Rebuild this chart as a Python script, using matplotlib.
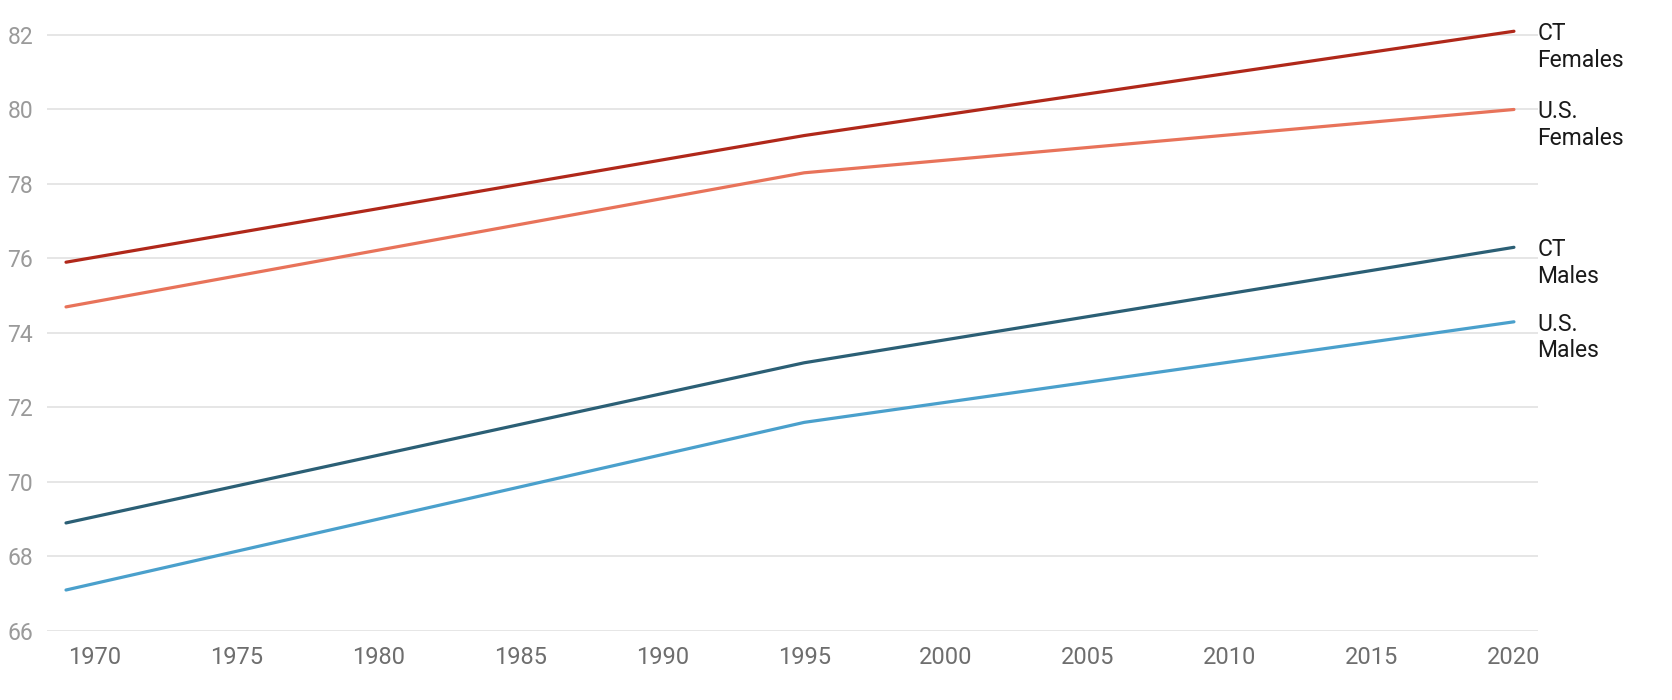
import numpy as np
import matplotlib
matplotlib.use("Agg")
import matplotlib.pyplot as plt

plt.rcParams['font.family'] = ['Roboto', 'DejaVu Sans']

# data
years = [1969, 1995, 2020]
ct_females = [75.9, 79.3, 82.1]
us_females = [74.7, 78.3, 80.0]
ct_males = [68.9, 73.2, 76.3]
us_males = [67.1, 71.6, 74.3]

series = [
    ("CT\nFemales", ct_females, "#b0281a"),
    ("U.S.\nFemales", us_females, "#e8735a"),
    ("CT\nMales", ct_males, "#2b5f75"),
    ("U.S.\nMales", us_males, "#4aa0cc"),
]

x_ticks = list(range(1970, 2021, 5))
y_ticks = list(range(66, 83, 2))

fig = plt.figure(figsize=(16.72, 7.0), dpi=100)
ax = fig.add_axes([0.0281, 0.0986, 0.8918, 0.8674])

for label, vals, col in series:
    ax.plot(years, vals, color=col, lw=2.3, solid_capstyle='round', clip_on=False, zorder=3)
    ax.annotate(label, xy=(years[-1], vals[-1]), xytext=(17, 6.5), textcoords='offset points',
                va='top', ha='left', fontsize=16.5, color='#1a1a1a', linespacing=1.2)

ax.set_xlim(1968.33, 2020.85)
ax.set_ylim(66, 82.3)
ax.set_xticks(x_ticks)
ax.set_yticks(y_ticks)
ax.grid(axis='y', color='#e6e6e6', lw=1.4)
ax.set_axisbelow(True)
for s in ax.spines.values():
    s.set_visible(False)
ax.tick_params(axis='both', length=0)
ax.tick_params(axis='x', labelsize=17, labelcolor='#6e6e6e', pad=11)
ax.tick_params(axis='y', labelsize=16.5, labelcolor='#9a9a9a', pad=10)

fig.savefig("out.png", dpi=100)
